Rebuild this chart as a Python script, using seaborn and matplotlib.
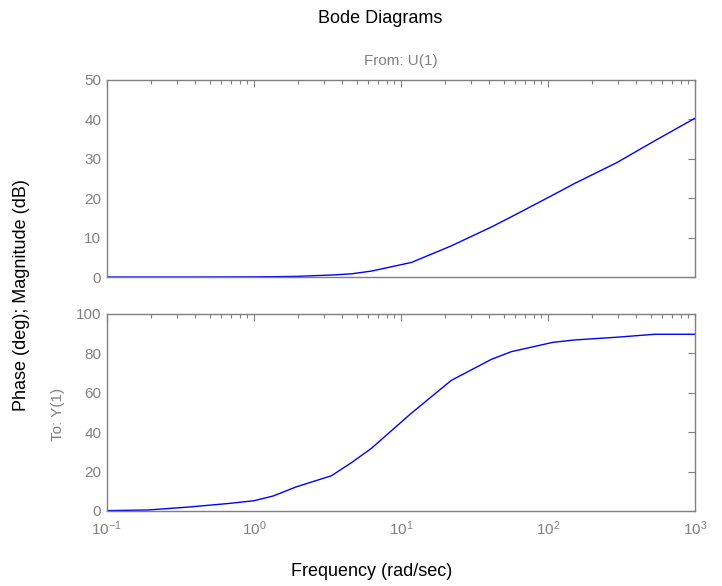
import numpy as np
import pandas as pd
import matplotlib
matplotlib.use("Agg")
import matplotlib.pyplot as plt
import seaborn as sns
from matplotlib.ticker import LogLocator, FixedLocator

# Data
freq = [0.1, 0.19, 0.36, 0.67, 1.0, 1.35, 1.95, 3.37, 4.6, 6.3, 11.8, 22.0, 41.3,
        56.5, 108.0, 151.0, 293.0, 534.0, 1000.0]
magnitude_db = [0.0, 0.0, 0.0, 0.02, 0.04, 0.08, 0.16, 0.5, 0.8, 1.5, 3.7, 7.9, 12.7,
                15.3, 20.8, 23.7, 29.0, 34.6, 40.3]
phase_deg = [0.2, 0.5, 2.0, 3.8, 5.2, 7.6, 12.3, 17.9, 24.5, 31.8, 49.7, 66.3, 77.0,
             80.9, 85.6, 86.8, 88.2, 89.7, 89.7]

mag_ticks = [0, 10, 20, 30, 40, 50]
phase_ticks = [0, 20, 40, 60, 80, 100]

df = pd.DataFrame({"freq": freq, "mag": magnitude_db, "phase": phase_deg})

sns.set_style("white")
plt.rcParams["font.family"] = ["Liberation Sans", "DejaVu Sans"]
plt.rcParams["mathtext.fontset"] = "custom"
plt.rcParams["mathtext.rm"] = "Liberation Sans"
plt.rcParams["mathtext.it"] = "Liberation Sans"

gray = "#808080"
fig = plt.figure(figsize=(7.22, 5.86), dpi=100)
ax1 = fig.add_axes([0.148, 0.5273, 0.8146, 0.3362])
ax2 = fig.add_axes([0.148, 0.1280, 0.8146, 0.3362])

sns.lineplot(data=df, x="freq", y="mag", ax=ax1, color="#0000ff", linewidth=1.0)
sns.lineplot(data=df, x="freq", y="phase", ax=ax2, color="#0000ff", linewidth=1.0)

for ax, yt, ylim in [(ax1, mag_ticks, (0, 50)), (ax2, phase_ticks, (0, 100))]:
    ax.set_xscale("log")
    ax.set_xlim(0.1, 1000)
    ax.set_ylim(*ylim)
    ax.yaxis.set_major_locator(FixedLocator(yt))
    ax.xaxis.set_major_locator(LogLocator(base=10, numticks=10))
    ax.xaxis.set_minor_locator(LogLocator(base=10, subs=np.arange(2, 10), numticks=20))
    ax.set_xlabel("")
    ax.set_ylabel("")
    for s in ax.spines.values():
        s.set_color(gray)
        s.set_linewidth(1.0)
        s.set_visible(True)
    ax.tick_params(which="both", direction="in", top=True, right=True,
                   color=gray, labelcolor=gray, labelsize=11)
    ax.tick_params(which="major", length=5, width=0.8)
    ax.tick_params(which="minor", length=3, width=0.8)
    ax.tick_params(axis="y", pad=4)

ax1.tick_params(labelbottom=False)
ax2.tick_params(axis="x", pad=6)

fig.text(0.527, 0.968, "Bode Diagrams", ha="center", va="center", fontsize=13, color="black")
fig.text(0.555, 0.896, "From: U(1)", ha="center", va="center", fontsize=11, color=gray)
fig.text(0.515, 0.024, "Frequency (rad/sec)", ha="center", va="center", fontsize=13, color="black")
fig.text(0.030, 0.497, "Phase (deg); Magnitude (dB)", ha="center", va="center",
         rotation=90, fontsize=13, color="black")
fig.text(0.081, 0.292, "To: Y(1)", ha="center", va="center", rotation=90,
         fontsize=11, color=gray)

fig.savefig("out.png", dpi=100, facecolor="white")
